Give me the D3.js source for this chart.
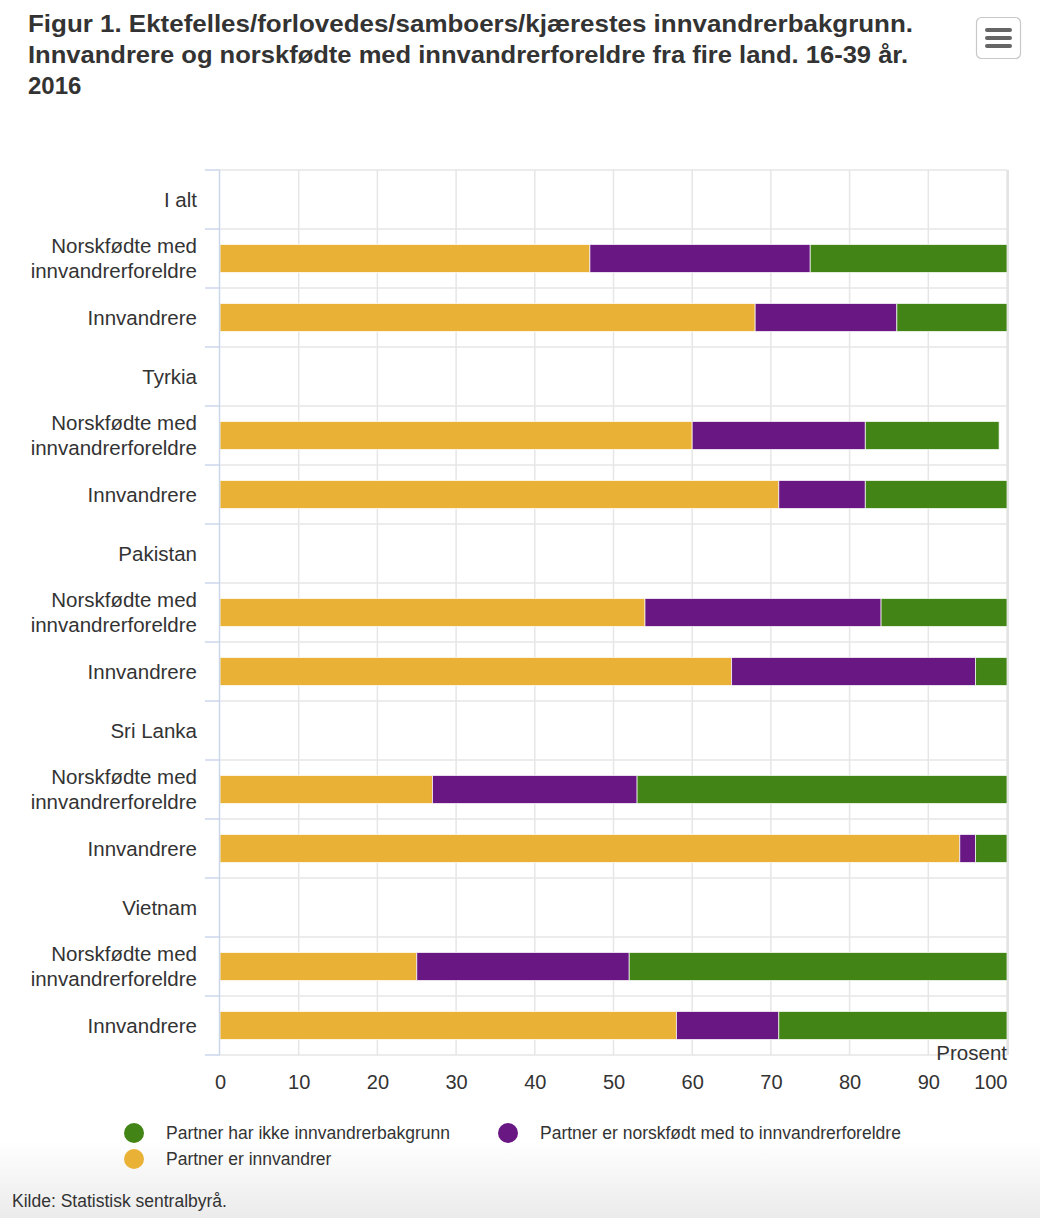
<!DOCTYPE html>
<html>
<head>
<meta charset="utf-8">
<title>Figur 1</title>
<script src="https://d3js.org/d3.v7.min.js"></script>
<style>
  body { margin: 0; background: #fff; }
  text { font-family: "Liberation Sans", Arial, Helvetica, sans-serif; fill: #333; }
</style>
</head>
<body>
<div id="chart"></div>
<script>
// data (percent)
var categories = ["I alt", "Norskfødte med innvandrerforeldre", "Innvandrere",
  "Tyrkia", "Norskfødte med innvandrerforeldre", "Innvandrere",
  "Pakistan", "Norskfødte med innvandrerforeldre", "Innvandrere",
  "Sri Lanka", "Norskfødte med innvandrerforeldre", "Innvandrere",
  "Vietnam", "Norskfødte med innvandrerforeldre", "Innvandrere"];
var partnerInnvandrer = [null, 47, 68, null, 60, 71, null, 54, 65, null, 27, 94, null, 25, 58];
var partnerNorskfodt  = [null, 28, 18, null, 22, 11, null, 30, 31, null, 26, 2, null, 27, 13];
var partnerIkke       = [null, 25, 14, null, 17, 18, null, 16, 4, null, 47, 4, null, 48, 29];
var xTicks = [0, 10, 20, 30, 40, 50, 60, 70, 80, 90, 100];

var titleLines = ["Figur 1. Ektefelles/forlovedes/samboers/kjærestes innvandrerbakgrunn.",
  "Innvandrere og norskfødte med innvandrerforeldre fra fire land. 16-39 år.",
  "2016"];
var seriesNames = ["Partner har ikke innvandrerbakgrunn", "Partner er norskfødt med to innvandrerforeldre", "Partner er innvandrer"];
var seriesColors = ["#428416", "#681783", "#e9b236"];

var W = 1040, H = 1218;
var plot = { left: 220, right: 1007, top: 170, bottom: 1055 };

var svg = d3.select("#chart").append("svg")
  .attr("width", W).attr("height", H);

// bottom shading
var defs = svg.append("defs");
var grad = defs.append("linearGradient").attr("id", "bottomfade")
  .attr("x1", 0).attr("y1", 0).attr("x2", 0).attr("y2", 1);
grad.append("stop").attr("offset", "0%").attr("stop-color", "#ffffff");
grad.append("stop").attr("offset", "100%").attr("stop-color", "#ebebeb");
svg.append("rect").attr("x", 0).attr("y", 1140).attr("width", W).attr("height", H - 1140)
  .attr("fill", "url(#bottomfade)");

// title
var widths = [885, 880, null];
svg.selectAll(".title").data(titleLines).enter().append("text")
  .attr("class", "title")
  .attr("x", 28)
  .attr("y", function(d, i) { return 32 + i * 31; })
  .style("font-size", "24px").style("font-weight", "bold")
  .attr("textLength", function(d, i) { return widths[i]; })
  .attr("lengthAdjust", "spacingAndGlyphs")
  .text(function(d) { return d; });

// menu button
var menu = svg.append("g");
menu.append("rect").attr("x", 976.5).attr("y", 17.5).attr("width", 44).attr("height", 41)
  .attr("rx", 5).attr("fill", "#fff").attr("stroke", "#c8c8c8").attr("stroke-width", 1.2);
[30, 38, 46].forEach(function(yy) {
  menu.append("line").attr("x1", 987).attr("x2", 1010).attr("y1", yy).attr("y2", yy)
    .attr("stroke", "#666").attr("stroke-width", 4).attr("stroke-linecap", "round");
});

var x = d3.scaleLinear().domain([0, 100]).range([plot.left, plot.right]);
var y = d3.scaleBand().domain(d3.range(categories.length)).range([plot.top, plot.bottom]);

// vertical grid
svg.append("g").selectAll("line").data(xTicks.slice(1)).enter().append("line")
  .attr("x1", function(d) { return x(d); }).attr("x2", function(d) { return x(d); })
  .attr("y1", plot.top).attr("y2", plot.bottom)
  .attr("stroke", "#e6e6e6").attr("stroke-width", 1.5);

// horizontal grid at category boundaries
var bounds = d3.range(categories.length + 1).map(function(i) { return plot.top + i * y.step(); });
svg.append("g").selectAll("line").data(bounds).enter().append("line")
  .attr("x1", plot.left).attr("x2", plot.right)
  .attr("y1", function(d) { return d; }).attr("y2", function(d) { return d; })
  .attr("stroke", "#e6e6e6").attr("stroke-width", 1.5);
svg.append("g").selectAll("line").data(bounds).enter().append("line")
  .attr("x1", plot.left - 15).attr("x2", plot.left)
  .attr("y1", function(d) { return d; }).attr("y2", function(d) { return d; })
  .attr("stroke", "#ccd6eb").attr("stroke-width", 1.5);

// stacked bars
var rows = categories.map(function(c, i) {
  return [partnerInnvandrer[i], partnerNorskfodt[i], partnerIkke[i]];
});
var segColors = [seriesColors[2], seriesColors[1], seriesColors[0]];
var barH = 28;
rows.forEach(function(r, i) {
  if (r[0] == null) return;
  var start = 0;
  r.forEach(function(v, k) {
    svg.append("rect")
      .attr("x", x(start))
      .attr("y", y(i) + (y.bandwidth() - barH) / 2)
      .attr("width", x(start + v) - x(start))
      .attr("height", barH)
      .attr("fill", segColors[k])
      .attr("stroke", "#fff").attr("stroke-opacity", 0.7).attr("stroke-width", 1);
    start += v;
  });
});

// axis lines
svg.append("line").attr("x1", plot.left - 0.5).attr("x2", plot.left - 0.5)
  .attr("y1", plot.top).attr("y2", plot.bottom)
  .attr("stroke", "#ccd6eb").attr("stroke-width", 1.5);
svg.append("line").attr("x1", plot.right + 1).attr("x2", plot.right + 1)
  .attr("y1", plot.top).attr("y2", plot.bottom)
  .attr("stroke", "#e3e3e3").attr("stroke-width", 2);

// category labels, wrapped
function wrapLabel(str) {
  if (str.length > 20) {
    var idx = str.lastIndexOf(" ");
    return [str.slice(0, idx), str.slice(idx + 1)];
  }
  return [str];
}
categories.forEach(function(c, i) {
  var lines = wrapLabel(c);
  var cy = y(i) + y.bandwidth() / 2;
  var t = svg.append("text").attr("text-anchor", "end").style("font-size", "20.5px");
  lines.forEach(function(l, k) {
    t.append("tspan").attr("x", 197)
      .attr("y", cy + 7 + (k - (lines.length - 1) / 2) * 25.5)
      .text(l);
  });
});

// x axis
var xAxis = d3.axisBottom(x).tickValues(xTicks).tickSize(0).tickPadding(0);
var gx = svg.append("g").attr("transform", "translate(0," + plot.bottom + ")").call(xAxis);
gx.select(".domain").remove();
gx.selectAll("text").attr("y", 34).attr("dy", 0)
  .style("font-size", "20px").style("fill", "#333")
  .style("font-family", "'Liberation Sans', Arial, sans-serif");
gx.selectAll(".tick").filter(function(d) { return d === 100; }).select("text")
  .attr("text-anchor", "end").attr("x", 0);

svg.append("text").attr("x", plot.right).attr("y", 1060)
  .attr("text-anchor", "end").style("font-size", "20.5px").text("Prosent");

// legend
var legendPos = [[134, 1133], [508, 1133], [134, 1159]];
seriesNames.forEach(function(n, i) {
  svg.append("circle").attr("cx", legendPos[i][0]).attr("cy", legendPos[i][1]).attr("r", 10)
    .attr("fill", seriesColors[i]);
  svg.append("text").attr("x", legendPos[i][0] + 32).attr("y", legendPos[i][1] + 6)
    .style("font-size", "17.5px").text(n);
});

// source
svg.append("text").attr("x", 12).attr("y", 1207).style("font-size", "17.5px")
  .text("Kilde: Statistisk sentralbyrå.");
</script>
</body>
</html>
